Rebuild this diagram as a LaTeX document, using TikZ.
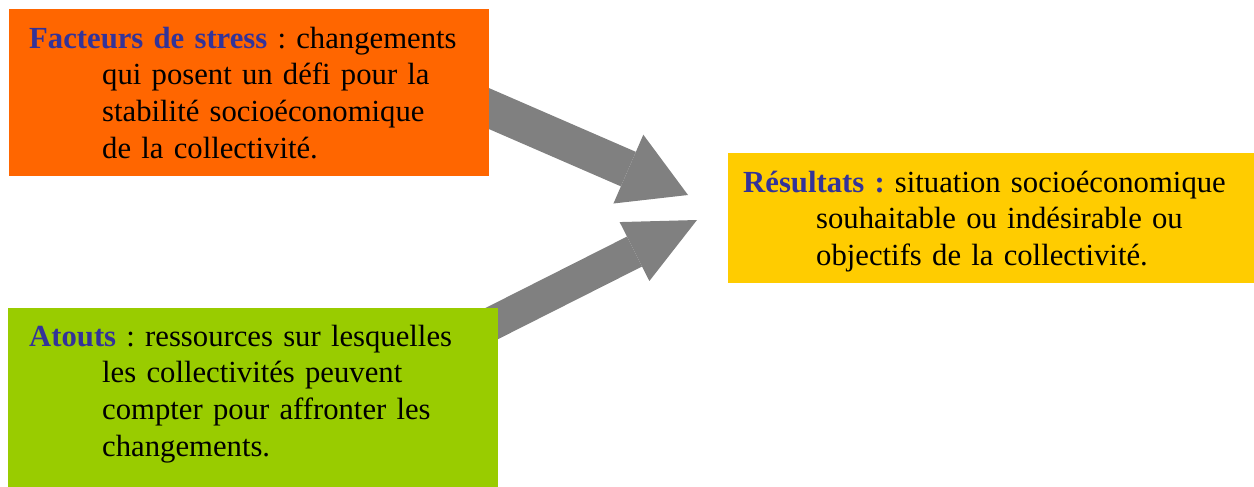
\documentclass[tikz,border=0pt]{standalone}
\usepackage{fontspec}
\setmainfont{Liberation Serif}
\usetikzlibrary{arrows.meta,calc}

\definecolor{stressorange}{HTML}{FF6600}
\definecolor{atoutvert}{HTML}{99CC00}
\definecolor{resultjaune}{HTML}{FFCC00}
\definecolor{titrebleu}{HTML}{333399}
\definecolor{flechegris}{HTML}{808080}

\pgfdeclarelayer{background}
\pgfsetlayers{background,main}

\frenchspacing
\newcommand{\retrait}{\hspace*{73pt}}
\newcommand{\titre}[1]{\textcolor{titrebleu}{\textbf{#1}}}

\begin{document}
\begin{tikzpicture}[x=1pt,y=-1pt,
	boite/.style={anchor=north west, inner sep=0pt, align=left, text height=20pt,
		font=\fontsize{30.7}{36.7}\selectfont},
	fleche/.style={draw=flechegris}]
	\useasboundingbox (0,0) rectangle (1254,487);

	\node[boite, fill=stressorange, minimum width=480pt, minimum height=167pt, text width=440pt, text depth=109pt] (stress) at (9,9)
		{\titre{Facteurs de stress} : changements\\\retrait qui posent un défi pour la\\\retrait stabilité socioéconomique\\\retrait de la collectivité.};
	\node[boite, fill=atoutvert, minimum width=490pt, minimum height=179pt, text width=448pt, text depth=123pt] (atouts) at (8,308)
		{\titre{Atouts} : ressources sur lesquelles\\\retrait les collectivités peuvent\\\retrait compter pour affronter les\\\retrait changements.};
	\node[boite, fill=resultjaune, minimum width=526pt, minimum height=130pt, text width=496pt, text depth=72pt] (resultats) at (728,153)
		{\titre{Résultats :} situation socioéconomique\\\retrait souhaitable ou indésirable ou\\\retrait objectifs de la collectivité.};

	\coordinate (queueS) at ($(stress.east)+(-19,7.8)$);
	\coordinate (pointeS) at (688,195);
	\coordinate (queueA) at ($(atouts.north east)+(-18,21.3)$);
	\coordinate (pointeA) at (697,220);

	\begin{pgfonlayer}{background}
		\draw[fleche, line width=37.6pt, -{Triangle[length=65pt,width=75pt,line width=0pt]}] (queueS) -- (pointeS);
		\draw[fleche, line width=33.5pt, -{Triangle[length=70pt,width=66pt,line width=0pt]}] (queueA) -- (pointeA);
	\end{pgfonlayer}
\end{tikzpicture}
\end{document}
